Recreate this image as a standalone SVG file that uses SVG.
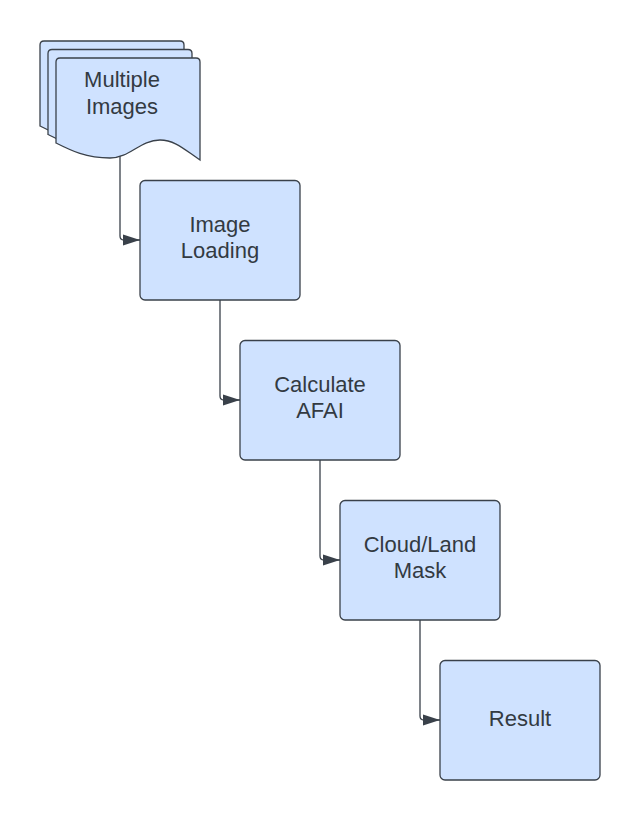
<svg xmlns="http://www.w3.org/2000/svg" width="640" height="820" viewBox="0 0 640 820">
<defs>
<style>
.box{fill:#cfe2ff;stroke:#3a414a;stroke-width:1.3}
.lbl{font-family:"Liberation Sans",Arial,sans-serif;font-size:22px;fill:#333a42;text-anchor:middle}
.conn{fill:none;stroke:#3a414a;stroke-width:1.3}
</style>
<marker id="arr" markerWidth="18" markerHeight="14" refX="17" refY="7" orient="auto" markerUnits="userSpaceOnUse">
<path d="M0,1.5 L17,7 L0,12.5 Z" fill="#3a414a"/>
</marker>
<path id="doc" d="M4,0 L140,0 Q144,0 144,4 L144,102 C129,92 119,82 104,82 C84,82 74,100 54,100 C29,100 14,92 0,85 L0,4 Q0,0 4,0 Z"/>
</defs>
<rect width="640" height="820" fill="#ffffff"/>
<g id="multiple-images">
<use href="#doc" class="box" x="40" y="41"/>
<use href="#doc" class="box" x="48" y="49.5"/>
<use href="#doc" class="box" x="56" y="58"/>
<text class="lbl" x="122" y="87">Multiple</text>
<text class="lbl" x="122" y="114">Images</text>
</g>
<g id="image-loading">
<rect class="box" x="140" y="180.5" width="160" height="119.5" rx="5"/>
<text class="lbl" x="220" y="232">Image</text>
<text class="lbl" x="220" y="258">Loading</text>
</g>
<g id="calculate-afai">
<rect class="box" x="240" y="340.5" width="160" height="119.5" rx="5"/>
<text class="lbl" x="320" y="392">Calculate</text>
<text class="lbl" x="320" y="418">AFAI</text>
</g>
<g id="cloud-land-mask">
<rect class="box" x="340" y="500.5" width="160" height="119.5" rx="5"/>
<text class="lbl" x="420" y="552">Cloud/Land</text>
<text class="lbl" x="420" y="578">Mask</text>
</g>
<g id="result">
<rect class="box" x="440" y="660.5" width="160" height="119.5" rx="5"/>
<text class="lbl" x="520" y="726">Result</text>
</g>
<g id="connectors">
<path class="conn" d="M120,156 L120,236 Q120,240 124,240 L140,240" marker-end="url(#arr)"/>
<path class="conn" d="M220,300 L220,396 Q220,400 224,400 L240,400" marker-end="url(#arr)"/>
<path class="conn" d="M320,460 L320,556 Q320,560 324,560 L340,560" marker-end="url(#arr)"/>
<path class="conn" d="M420,620 L420,716 Q420,720 424,720 L440,720" marker-end="url(#arr)"/>
</g>
</svg>
